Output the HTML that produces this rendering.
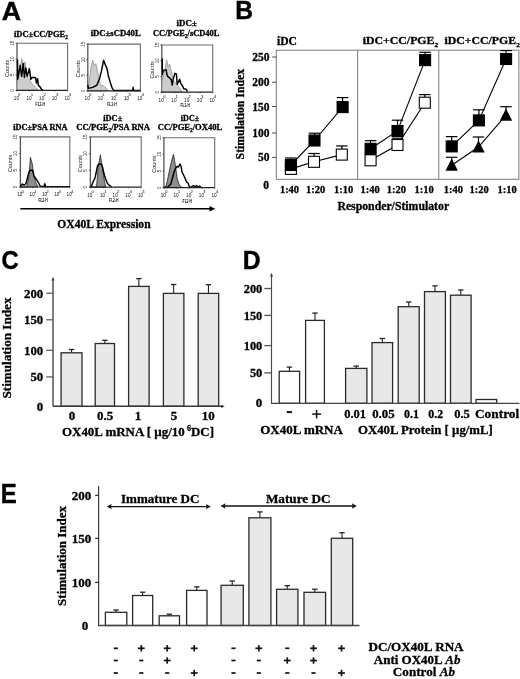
<!DOCTYPE html>
<html><head><meta charset="utf-8"><title>Figure</title>
<style>html,body{margin:0;padding:0;background:#fff;} svg{display:block;will-change:transform;}</style>
</head><body>
<svg width="520" height="679" viewBox="0 0 520 679">
<rect width="520" height="679" fill="#fff"/>
<text transform="translate(1.73,19.85) scale(1.013,1)" font-size="26.45" font-weight="bold" font-family='"Liberation Sans", sans-serif' stroke="#000" stroke-width="0.45">A</text>
<text transform="translate(235.26,19.1) scale(0.968,1)" font-size="25.36" font-weight="bold" font-family='"Liberation Sans", sans-serif' stroke="#000" stroke-width="0.45">B</text>
<text transform="translate(1.43,269.11) scale(0.895,1)" font-size="26.45" font-weight="bold" font-family='"Liberation Sans", sans-serif' stroke="#000" stroke-width="0.45">C</text>
<text transform="translate(242.74,268.6) scale(0.939,1)" font-size="26.45" font-weight="bold" font-family='"Liberation Sans", sans-serif' stroke="#000" stroke-width="0.45">D</text>
<text transform="translate(0.79,503.0) scale(0.884,1)" font-size="27.18" font-weight="bold" font-family='"Liberation Sans", sans-serif' stroke="#000" stroke-width="0.45">E</text>
<text transform="translate(14.00,37.00) scale(0.9875,1.0000)" font-family='"Liberation Serif", serif' font-weight="bold" fill="#000" stroke="#000" stroke-width="0.3"><tspan x="0.00" y="0.00" font-size="8.60">iDC±CC/PGE</tspan><tspan x="52.02" y="1.89" font-size="5.33">2</tspan></text>
<text transform="translate(90.70,36.20) scale(1.0073,1.0000)" font-family='"Liberation Serif", serif' font-weight="bold" fill="#000" stroke="#000" stroke-width="0.3"><tspan x="0.00" y="0.00" font-size="8.60">iDC±sCD40L</tspan></text>
<text transform="translate(176.60,25.80) scale(1.0342,1.0000)" font-family='"Liberation Serif", serif' font-weight="bold" fill="#000" stroke="#000" stroke-width="0.3"><tspan x="0.00" y="0.00" font-size="8.60">iDC±</tspan></text>
<text transform="translate(153.00,36.00) scale(0.9830,1.0000)" font-family='"Liberation Serif", serif' font-weight="bold" fill="#000" stroke="#000" stroke-width="0.3"><tspan x="0.00" y="0.00" font-size="8.60">CC/PGE</tspan><tspan x="32.49" y="1.89" font-size="5.33">2</tspan><tspan x="35.15" y="0.00" font-size="8.60">/sCD40L</tspan></text>
<text transform="translate(13.20,130.40) scale(0.9682,1.0000)" font-family='"Liberation Serif", serif' font-weight="bold" fill="#000" stroke="#000" stroke-width="0.3"><tspan x="0.00" y="0.00" font-size="8.60">iDC±PSA RNA</tspan></text>
<text transform="translate(103.20,121.10) scale(0.9779,1.0000)" font-family='"Liberation Serif", serif' font-weight="bold" fill="#000" stroke="#000" stroke-width="0.3"><tspan x="0.00" y="0.00" font-size="8.60">iDC±</tspan></text>
<text transform="translate(76.20,130.30) scale(0.9960,1.0000)" font-family='"Liberation Serif", serif' font-weight="bold" fill="#000" stroke="#000" stroke-width="0.3"><tspan x="0.00" y="0.00" font-size="8.60">CC/PGE</tspan><tspan x="32.49" y="1.89" font-size="5.33">2</tspan><tspan x="35.15" y="0.00" font-size="8.60">/PSA RNA</tspan></text>
<text transform="translate(180.80,121.10) scale(0.9421,1.0000)" font-family='"Liberation Serif", serif' font-weight="bold" fill="#000" stroke="#000" stroke-width="0.3"><tspan x="0.00" y="0.00" font-size="8.60">iDC±</tspan></text>
<text transform="translate(157.70,130.30) scale(0.9972,1.0000)" font-family='"Liberation Serif", serif' font-weight="bold" fill="#000" stroke="#000" stroke-width="0.3"><tspan x="0.00" y="0.00" font-size="8.60">CC/PGE</tspan><tspan x="32.49" y="1.89" font-size="5.33">2</tspan><tspan x="35.15" y="0.00" font-size="8.60">/OX40L</tspan></text>
<polyline points="17.0,43.3 67.6,43.3 67.6,90.4" fill="none" stroke="#6a6a6a" stroke-width="1.1"/>
<line x1="17.0" y1="42.8" x2="17.0" y2="90.9" stroke="#555" stroke-width="1.3"/>
<polygon points="17.0,90.4 17.5,79.4 19.0,76.4 20.5,66.4 21.9,58.5 23.0,68.4 24.0,64.4 25.0,61.8 26.0,68.4 27.0,74.4 28.0,77.4 29.5,79.2 31.0,82.4 32.5,84.4 34.5,86.4 36.0,87.9 37.0,88.9 38.0,90.4 38.0,90.4" fill="#cdcdcd" stroke="#888" stroke-width="0.7"/>
<polyline points="17.5,59.6 17.7,79.2 19.1,71.4 20.2,65.2 21.6,76.4 23.3,63.5 24.4,77.5 25.8,68.0 27.2,76.4 29.4,68.6 30.8,79.2 32.2,77.5 34.5,77.5 35.6,78.0 36.4,83.1 37.6,78.6 38.4,85.4 40.1,87.0 41.5,89.3 43.0,90.0" fill="none" stroke="#000" stroke-width="1.45" stroke-linejoin="round"/>
<line x1="16.4" y1="90.4" x2="67.6" y2="90.4" stroke="#222" stroke-width="1.2"/>
<line x1="15.5" y1="90.4" x2="17.0" y2="90.4" stroke="#333" stroke-width="0.7"/>
<text transform="translate(13.7,90.4) rotate(-90)" font-size="4.6" font-family='"Liberation Sans", sans-serif' text-anchor="middle" fill="#222">0</text>
<line x1="15.5" y1="74.7" x2="17.0" y2="74.7" stroke="#333" stroke-width="0.7"/>
<text transform="translate(13.7,74.7) rotate(-90)" font-size="4.6" font-family='"Liberation Sans", sans-serif' text-anchor="middle" fill="#222">5</text>
<line x1="15.5" y1="59.0" x2="17.0" y2="59.0" stroke="#333" stroke-width="0.7"/>
<text transform="translate(13.7,59.0) rotate(-90)" font-size="4.6" font-family='"Liberation Sans", sans-serif' text-anchor="middle" fill="#222">10</text>
<line x1="15.5" y1="43.3" x2="17.0" y2="43.3" stroke="#333" stroke-width="0.7"/>
<text transform="translate(13.7,43.3) rotate(-90)" font-size="4.6" font-family='"Liberation Sans", sans-serif' text-anchor="middle" fill="#222">15</text>
<text transform="translate(8.7,68.3) rotate(-90)" font-size="4.7" font-family='"Liberation Sans", sans-serif' text-anchor="middle" fill="#222" textLength="17.2" lengthAdjust="spacingAndGlyphs">Counts</text>
<line x1="17.0" y1="90.4" x2="17.0" y2="91.7" stroke="#333" stroke-width="0.6"/>
<text transform="translate(13.8,99.7) scale(0.8,1)" font-size="5.8" font-family='"Liberation Sans", sans-serif' fill="#111">10</text>
<text x="18.1" y="96.0" font-size="4.4" font-family='"Liberation Sans", sans-serif' fill="#111">0</text>
<line x1="29.65" y1="90.4" x2="29.65" y2="91.7" stroke="#333" stroke-width="0.6"/>
<text transform="translate(26.4,99.7) scale(0.8,1)" font-size="5.8" font-family='"Liberation Sans", sans-serif' fill="#111">10</text>
<text x="30.8" y="96.0" font-size="4.4" font-family='"Liberation Sans", sans-serif' fill="#111">1</text>
<line x1="42.3" y1="90.4" x2="42.3" y2="91.7" stroke="#333" stroke-width="0.6"/>
<text transform="translate(39.1,99.7) scale(0.8,1)" font-size="5.8" font-family='"Liberation Sans", sans-serif' fill="#111">10</text>
<text x="43.4" y="96.0" font-size="4.4" font-family='"Liberation Sans", sans-serif' fill="#111">2</text>
<line x1="54.949999999999996" y1="90.4" x2="54.949999999999996" y2="91.7" stroke="#333" stroke-width="0.6"/>
<text transform="translate(51.7,99.7) scale(0.8,1)" font-size="5.8" font-family='"Liberation Sans", sans-serif' fill="#111">10</text>
<text x="56.0" y="96.0" font-size="4.4" font-family='"Liberation Sans", sans-serif' fill="#111">3</text>
<line x1="67.6" y1="90.4" x2="67.6" y2="91.7" stroke="#333" stroke-width="0.6"/>
<text transform="translate(64.4,99.7) scale(0.8,1)" font-size="5.8" font-family='"Liberation Sans", sans-serif' fill="#111">10</text>
<text x="68.7" y="96.0" font-size="4.4" font-family='"Liberation Sans", sans-serif' fill="#111">4</text>
<text x="40.3" y="105.6" font-size="4.6" font-family='"Liberation Sans", sans-serif' text-anchor="middle" fill="#000" stroke="#000" stroke-width="0.12" textLength="9.4" lengthAdjust="spacingAndGlyphs">FL1-H</text>
<polyline points="87.8,44.1 140.4,44.1 140.4,90.8" fill="none" stroke="#6a6a6a" stroke-width="1.1"/>
<line x1="87.8" y1="43.6" x2="87.8" y2="91.3" stroke="#555" stroke-width="1.3"/>
<polygon points="87.8,90.8 88.3,87.8 89.1,82.4 91.1,66.2 92.8,60.2 94.1,65.8 95.9,63.5 97.2,70.3 98.5,75.0 99.6,81.0 100.8,85.8 102.8,85.3 104.3,86.8 105.8,87.8 107.3,89.8 108.3,90.8 108.3,90.8" fill="#cdcdcd" stroke="#888" stroke-width="0.7"/>
<polyline points="87.8,84.8 88.3,88.4 92.8,87.4 96.9,85.1 99.6,78.4 101.6,70.3 103.6,60.2 105.6,65.6 107.0,68.3 108.3,75.7 110.3,82.4 112.3,88.4 113.7,90.4 132.8,90.4 133.1,87.3 133.6,90.4 140.4,90.4" fill="none" stroke="#000" stroke-width="1.45" stroke-linejoin="round"/>
<line x1="87.2" y1="90.8" x2="140.4" y2="90.8" stroke="#222" stroke-width="1.2"/>
<line x1="86.3" y1="90.8" x2="87.8" y2="90.8" stroke="#333" stroke-width="0.7"/>
<text transform="translate(84.5,90.8) rotate(-90)" font-size="4.6" font-family='"Liberation Sans", sans-serif' text-anchor="middle" fill="#222">0</text>
<line x1="86.3" y1="75.23333333333333" x2="87.8" y2="75.23333333333333" stroke="#333" stroke-width="0.7"/>
<text transform="translate(84.5,75.2) rotate(-90)" font-size="4.6" font-family='"Liberation Sans", sans-serif' text-anchor="middle" fill="#222">5</text>
<line x1="86.3" y1="59.66666666666667" x2="87.8" y2="59.66666666666667" stroke="#333" stroke-width="0.7"/>
<text transform="translate(84.5,59.7) rotate(-90)" font-size="4.6" font-family='"Liberation Sans", sans-serif' text-anchor="middle" fill="#222">10</text>
<line x1="86.3" y1="44.1" x2="87.8" y2="44.1" stroke="#333" stroke-width="0.7"/>
<text transform="translate(84.5,44.1) rotate(-90)" font-size="4.6" font-family='"Liberation Sans", sans-serif' text-anchor="middle" fill="#222">15</text>
<text transform="translate(79.5,68.9) rotate(-90)" font-size="4.7" font-family='"Liberation Sans", sans-serif' text-anchor="middle" fill="#222" textLength="17.2" lengthAdjust="spacingAndGlyphs">Counts</text>
<line x1="87.8" y1="90.8" x2="87.8" y2="92.1" stroke="#333" stroke-width="0.6"/>
<text transform="translate(84.6,100.1) scale(0.8,1)" font-size="5.8" font-family='"Liberation Sans", sans-serif' fill="#111">10</text>
<text x="88.9" y="96.4" font-size="4.4" font-family='"Liberation Sans", sans-serif' fill="#111">0</text>
<line x1="100.95" y1="90.8" x2="100.95" y2="92.1" stroke="#333" stroke-width="0.6"/>
<text transform="translate(97.8,100.1) scale(0.8,1)" font-size="5.8" font-family='"Liberation Sans", sans-serif' fill="#111">10</text>
<text x="102.0" y="96.4" font-size="4.4" font-family='"Liberation Sans", sans-serif' fill="#111">1</text>
<line x1="114.1" y1="90.8" x2="114.1" y2="92.1" stroke="#333" stroke-width="0.6"/>
<text transform="translate(110.9,100.1) scale(0.8,1)" font-size="5.8" font-family='"Liberation Sans", sans-serif' fill="#111">10</text>
<text x="115.2" y="96.4" font-size="4.4" font-family='"Liberation Sans", sans-serif' fill="#111">2</text>
<line x1="127.25" y1="90.8" x2="127.25" y2="92.1" stroke="#333" stroke-width="0.6"/>
<text transform="translate(124.0,100.1) scale(0.8,1)" font-size="5.8" font-family='"Liberation Sans", sans-serif' fill="#111">10</text>
<text x="128.3" y="96.4" font-size="4.4" font-family='"Liberation Sans", sans-serif' fill="#111">3</text>
<line x1="140.4" y1="90.8" x2="140.4" y2="92.1" stroke="#333" stroke-width="0.6"/>
<text transform="translate(137.2,100.1) scale(0.8,1)" font-size="5.8" font-family='"Liberation Sans", sans-serif' fill="#111">10</text>
<text x="141.5" y="96.4" font-size="4.4" font-family='"Liberation Sans", sans-serif' fill="#111">4</text>
<text x="112.0" y="106.0" font-size="4.6" font-family='"Liberation Sans", sans-serif' text-anchor="middle" fill="#000" stroke="#000" stroke-width="0.12" textLength="9.4" lengthAdjust="spacingAndGlyphs">FL1-H</text>
<polyline points="161.8,45.0 212.7,45.0 212.7,92.2" fill="none" stroke="#6a6a6a" stroke-width="1.1"/>
<line x1="161.8" y1="44.5" x2="161.8" y2="92.7" stroke="#555" stroke-width="1.3"/>
<polygon points="161.8,92.2 162.1,80.2 163.3,76.2 164.8,70.2 166.7,59.8 168.0,67.2 169.6,63.9 171.0,70.2 172.0,73.3 172.8,80.2 174.8,82.2 176.8,84.2 178.3,86.2 179.8,88.2 181.3,90.2 182.3,92.2 182.3,92.2" fill="#cdcdcd" stroke="#888" stroke-width="0.7"/>
<polyline points="162.2,58.2 162.3,74.5 163.4,70.4 166.1,69.8 167.2,75.7 168.4,76.9 169.9,78.1 171.3,79.8 172.2,85.1 173.4,78.6 174.9,73.3 176.4,73.9 177.2,84.5 179.6,79.2 180.7,83.4 182.5,85.7 183.7,88.7 186.1,89.3 187.5,91.6" fill="none" stroke="#000" stroke-width="1.45" stroke-linejoin="round"/>
<line x1="161.20000000000002" y1="92.2" x2="212.7" y2="92.2" stroke="#222" stroke-width="1.2"/>
<line x1="160.3" y1="92.2" x2="161.8" y2="92.2" stroke="#333" stroke-width="0.7"/>
<text transform="translate(158.5,92.2) rotate(-90)" font-size="4.6" font-family='"Liberation Sans", sans-serif' text-anchor="middle" fill="#222">0</text>
<line x1="160.3" y1="76.46666666666667" x2="161.8" y2="76.46666666666667" stroke="#333" stroke-width="0.7"/>
<text transform="translate(158.5,76.5) rotate(-90)" font-size="4.6" font-family='"Liberation Sans", sans-serif' text-anchor="middle" fill="#222">5</text>
<line x1="160.3" y1="60.733333333333334" x2="161.8" y2="60.733333333333334" stroke="#333" stroke-width="0.7"/>
<text transform="translate(158.5,60.7) rotate(-90)" font-size="4.6" font-family='"Liberation Sans", sans-serif' text-anchor="middle" fill="#222">10</text>
<line x1="160.3" y1="45.0" x2="161.8" y2="45.0" stroke="#333" stroke-width="0.7"/>
<text transform="translate(158.5,45.0) rotate(-90)" font-size="4.6" font-family='"Liberation Sans", sans-serif' text-anchor="middle" fill="#222">15</text>
<text transform="translate(153.5,70.0) rotate(-90)" font-size="4.7" font-family='"Liberation Sans", sans-serif' text-anchor="middle" fill="#222" textLength="17.2" lengthAdjust="spacingAndGlyphs">Counts</text>
<line x1="161.8" y1="92.2" x2="161.8" y2="93.5" stroke="#333" stroke-width="0.6"/>
<text transform="translate(158.6,101.5) scale(0.8,1)" font-size="5.8" font-family='"Liberation Sans", sans-serif' fill="#111">10</text>
<text x="162.9" y="97.8" font-size="4.4" font-family='"Liberation Sans", sans-serif' fill="#111">0</text>
<line x1="174.525" y1="92.2" x2="174.525" y2="93.5" stroke="#333" stroke-width="0.6"/>
<text transform="translate(171.3,101.5) scale(0.8,1)" font-size="5.8" font-family='"Liberation Sans", sans-serif' fill="#111">10</text>
<text x="175.6" y="97.8" font-size="4.4" font-family='"Liberation Sans", sans-serif' fill="#111">1</text>
<line x1="187.25" y1="92.2" x2="187.25" y2="93.5" stroke="#333" stroke-width="0.6"/>
<text transform="translate(184.1,101.5) scale(0.8,1)" font-size="5.8" font-family='"Liberation Sans", sans-serif' fill="#111">10</text>
<text x="188.3" y="97.8" font-size="4.4" font-family='"Liberation Sans", sans-serif' fill="#111">2</text>
<line x1="199.975" y1="92.2" x2="199.975" y2="93.5" stroke="#333" stroke-width="0.6"/>
<text transform="translate(196.8,101.5) scale(0.8,1)" font-size="5.8" font-family='"Liberation Sans", sans-serif' fill="#111">10</text>
<text x="201.1" y="97.8" font-size="4.4" font-family='"Liberation Sans", sans-serif' fill="#111">3</text>
<line x1="212.7" y1="92.2" x2="212.7" y2="93.5" stroke="#333" stroke-width="0.6"/>
<text transform="translate(209.5,101.5) scale(0.8,1)" font-size="5.8" font-family='"Liberation Sans", sans-serif' fill="#111">10</text>
<text x="213.8" y="97.8" font-size="4.4" font-family='"Liberation Sans", sans-serif' fill="#111">4</text>
<text x="185.2" y="107.4" font-size="4.6" font-family='"Liberation Sans", sans-serif' text-anchor="middle" fill="#000" stroke="#000" stroke-width="0.12" textLength="9.4" lengthAdjust="spacingAndGlyphs">FL1-H</text>
<polyline points="20.4,136.9 69.8,136.9 69.8,187.0" fill="none" stroke="#6a6a6a" stroke-width="1.1"/>
<line x1="20.4" y1="136.4" x2="20.4" y2="187.5" stroke="#555" stroke-width="1.3"/>
<polygon points="20.4,187.0 26.5,187.0 27.9,182.0 28.9,177.0 29.5,170.0 30.4,157.3 31.5,161.3 32.5,165.0 33.0,170.0 34.0,177.0 36.0,183.0 38.0,187.0 38.0,187.0" fill="#8e8e8e" stroke="#222" stroke-width="0.8"/>
<polyline points="20.4,186.3 22.5,184.1 24.0,185.3 25.9,183.8 27.5,177.8 28.5,173.8 29.5,170.8 30.5,170.3 32.5,170.3 33.0,172.0 34.0,175.8 35.5,178.3 37.0,180.3 38.5,182.8 40.0,185.8 41.5,186.5 44.0,186.5 44.8,183.8 45.6,186.5 69.8,186.6" fill="none" stroke="#000" stroke-width="1.45" stroke-linejoin="round"/>
<line x1="19.799999999999997" y1="187.0" x2="69.8" y2="187.0" stroke="#222" stroke-width="1.2"/>
<line x1="18.9" y1="187.0" x2="20.4" y2="187.0" stroke="#333" stroke-width="0.7"/>
<text transform="translate(17.1,187.0) rotate(-90)" font-size="4.6" font-family='"Liberation Sans", sans-serif' text-anchor="middle" fill="#222">0</text>
<line x1="18.9" y1="170.3" x2="20.4" y2="170.3" stroke="#333" stroke-width="0.7"/>
<text transform="translate(17.1,170.3) rotate(-90)" font-size="4.6" font-family='"Liberation Sans", sans-serif' text-anchor="middle" fill="#222">5</text>
<line x1="18.9" y1="153.60000000000002" x2="20.4" y2="153.60000000000002" stroke="#333" stroke-width="0.7"/>
<text transform="translate(17.1,153.6) rotate(-90)" font-size="4.6" font-family='"Liberation Sans", sans-serif' text-anchor="middle" fill="#222">10</text>
<line x1="18.9" y1="136.9" x2="20.4" y2="136.9" stroke="#333" stroke-width="0.7"/>
<text transform="translate(17.1,136.9) rotate(-90)" font-size="4.6" font-family='"Liberation Sans", sans-serif' text-anchor="middle" fill="#222">15</text>
<text transform="translate(12.1,163.5) rotate(-90)" font-size="4.7" font-family='"Liberation Sans", sans-serif' text-anchor="middle" fill="#222" textLength="17.2" lengthAdjust="spacingAndGlyphs">Counts</text>
<line x1="20.4" y1="187.0" x2="20.4" y2="188.3" stroke="#333" stroke-width="0.6"/>
<text transform="translate(17.2,196.3) scale(0.8,1)" font-size="5.8" font-family='"Liberation Sans", sans-serif' fill="#111">10</text>
<text x="21.5" y="192.6" font-size="4.4" font-family='"Liberation Sans", sans-serif' fill="#111">0</text>
<line x1="32.75" y1="187.0" x2="32.75" y2="188.3" stroke="#333" stroke-width="0.6"/>
<text transform="translate(29.6,196.3) scale(0.8,1)" font-size="5.8" font-family='"Liberation Sans", sans-serif' fill="#111">10</text>
<text x="33.9" y="192.6" font-size="4.4" font-family='"Liberation Sans", sans-serif' fill="#111">1</text>
<line x1="45.099999999999994" y1="187.0" x2="45.099999999999994" y2="188.3" stroke="#333" stroke-width="0.6"/>
<text transform="translate(41.9,196.3) scale(0.8,1)" font-size="5.8" font-family='"Liberation Sans", sans-serif' fill="#111">10</text>
<text x="46.2" y="192.6" font-size="4.4" font-family='"Liberation Sans", sans-serif' fill="#111">2</text>
<line x1="57.449999999999996" y1="187.0" x2="57.449999999999996" y2="188.3" stroke="#333" stroke-width="0.6"/>
<text transform="translate(54.2,196.3) scale(0.8,1)" font-size="5.8" font-family='"Liberation Sans", sans-serif' fill="#111">10</text>
<text x="58.5" y="192.6" font-size="4.4" font-family='"Liberation Sans", sans-serif' fill="#111">3</text>
<line x1="69.8" y1="187.0" x2="69.8" y2="188.3" stroke="#333" stroke-width="0.6"/>
<text transform="translate(66.6,196.3) scale(0.8,1)" font-size="5.8" font-family='"Liberation Sans", sans-serif' fill="#111">10</text>
<text x="70.9" y="192.6" font-size="4.4" font-family='"Liberation Sans", sans-serif' fill="#111">4</text>
<text x="43.1" y="202.2" font-size="4.6" font-family='"Liberation Sans", sans-serif' text-anchor="middle" fill="#000" stroke="#000" stroke-width="0.12" textLength="9.4" lengthAdjust="spacingAndGlyphs">FL2-H</text>
<polyline points="90.4,136.9 141.2,136.9 141.2,187.2" fill="none" stroke="#6a6a6a" stroke-width="1.1"/>
<line x1="90.4" y1="136.4" x2="90.4" y2="187.7" stroke="#555" stroke-width="1.3"/>
<polygon points="90.4,187.2 96.5,187.2 97.5,175.2 98.5,164.2 99.5,160.2 100.3,154.9 101.5,162.2 102.5,168.2 103.5,175.2 104.5,181.2 105.7,187.2 105.7,187.2" fill="#8e8e8e" stroke="#222" stroke-width="0.8"/>
<polyline points="90.4,186.5 91.5,186.2 93.0,182.0 95.0,178.0 96.5,171.0 97.5,166.0 98.5,164.4 100.0,164.0 101.5,164.5 102.5,167.0 103.5,171.5 104.5,175.5 105.5,178.5 106.5,181.0 107.5,183.5 109.0,185.0 110.5,186.0 111.5,186.9" fill="none" stroke="#000" stroke-width="1.45" stroke-linejoin="round"/>
<line x1="89.80000000000001" y1="187.2" x2="141.2" y2="187.2" stroke="#222" stroke-width="1.2"/>
<line x1="88.9" y1="187.2" x2="90.4" y2="187.2" stroke="#333" stroke-width="0.7"/>
<text transform="translate(87.1,187.2) rotate(-90)" font-size="4.6" font-family='"Liberation Sans", sans-serif' text-anchor="middle" fill="#222">0</text>
<line x1="88.9" y1="170.43333333333334" x2="90.4" y2="170.43333333333334" stroke="#333" stroke-width="0.7"/>
<text transform="translate(87.1,170.4) rotate(-90)" font-size="4.6" font-family='"Liberation Sans", sans-serif' text-anchor="middle" fill="#222">5</text>
<line x1="88.9" y1="153.66666666666666" x2="90.4" y2="153.66666666666666" stroke="#333" stroke-width="0.7"/>
<text transform="translate(87.1,153.7) rotate(-90)" font-size="4.6" font-family='"Liberation Sans", sans-serif' text-anchor="middle" fill="#222">10</text>
<line x1="88.9" y1="136.9" x2="90.4" y2="136.9" stroke="#333" stroke-width="0.7"/>
<text transform="translate(87.1,136.9) rotate(-90)" font-size="4.6" font-family='"Liberation Sans", sans-serif' text-anchor="middle" fill="#222">15</text>
<text transform="translate(82.1,163.6) rotate(-90)" font-size="4.7" font-family='"Liberation Sans", sans-serif' text-anchor="middle" fill="#222" textLength="17.2" lengthAdjust="spacingAndGlyphs">Counts</text>
<line x1="90.4" y1="187.2" x2="90.4" y2="188.5" stroke="#333" stroke-width="0.6"/>
<text transform="translate(87.2,196.5) scale(0.8,1)" font-size="5.8" font-family='"Liberation Sans", sans-serif' fill="#111">10</text>
<text x="91.5" y="192.8" font-size="4.4" font-family='"Liberation Sans", sans-serif' fill="#111">0</text>
<line x1="103.1" y1="187.2" x2="103.1" y2="188.5" stroke="#333" stroke-width="0.6"/>
<text transform="translate(99.9,196.5) scale(0.8,1)" font-size="5.8" font-family='"Liberation Sans", sans-serif' fill="#111">10</text>
<text x="104.2" y="192.8" font-size="4.4" font-family='"Liberation Sans", sans-serif' fill="#111">1</text>
<line x1="115.8" y1="187.2" x2="115.8" y2="188.5" stroke="#333" stroke-width="0.6"/>
<text transform="translate(112.6,196.5) scale(0.8,1)" font-size="5.8" font-family='"Liberation Sans", sans-serif' fill="#111">10</text>
<text x="116.9" y="192.8" font-size="4.4" font-family='"Liberation Sans", sans-serif' fill="#111">2</text>
<line x1="128.5" y1="187.2" x2="128.5" y2="188.5" stroke="#333" stroke-width="0.6"/>
<text transform="translate(125.3,196.5) scale(0.8,1)" font-size="5.8" font-family='"Liberation Sans", sans-serif' fill="#111">10</text>
<text x="129.6" y="192.8" font-size="4.4" font-family='"Liberation Sans", sans-serif' fill="#111">3</text>
<line x1="141.2" y1="187.2" x2="141.2" y2="188.5" stroke="#333" stroke-width="0.6"/>
<text transform="translate(138.0,196.5) scale(0.8,1)" font-size="5.8" font-family='"Liberation Sans", sans-serif' fill="#111">10</text>
<text x="142.3" y="192.8" font-size="4.4" font-family='"Liberation Sans", sans-serif' fill="#111">4</text>
<text x="113.8" y="202.4" font-size="4.6" font-family='"Liberation Sans", sans-serif' text-anchor="middle" fill="#000" stroke="#000" stroke-width="0.12" textLength="9.4" lengthAdjust="spacingAndGlyphs">FL2-H</text>
<polyline points="163.9,137.7 214.7,137.7 214.7,187.6" fill="none" stroke="#6a6a6a" stroke-width="1.1"/>
<line x1="163.9" y1="137.2" x2="163.9" y2="188.1" stroke="#555" stroke-width="1.3"/>
<polygon points="163.9,187.6 165.6,187.6 167.5,180.0 169.5,170.0 171.2,162.6 173.4,154.3 174.5,160.0 176.0,170.0 177.0,178.0 178.6,183.0 180.0,186.0 182.5,187.6 182.5,187.6" fill="#8e8e8e" stroke="#222" stroke-width="0.8"/>
<polyline points="163.9,187.3 168.0,187.0 170.8,184.0 172.5,178.0 174.0,172.0 175.5,168.5 177.0,166.5 178.5,167.0 179.9,164.0 181.0,166.0 182.0,172.0 183.5,175.0 185.0,178.0 186.5,182.0 188.0,183.0 189.5,187.0 190.5,187.3 192.0,186.5 193.5,185.5 195.0,187.0 196.5,185.5 198.0,187.0 199.5,186.0 201.0,187.3" fill="none" stroke="#000" stroke-width="1.45" stroke-linejoin="round"/>
<line x1="163.3" y1="187.6" x2="214.7" y2="187.6" stroke="#222" stroke-width="1.2"/>
<line x1="162.4" y1="187.6" x2="163.9" y2="187.6" stroke="#333" stroke-width="0.7"/>
<text transform="translate(160.6,187.6) rotate(-90)" font-size="4.6" font-family='"Liberation Sans", sans-serif' text-anchor="middle" fill="#222">0</text>
<line x1="162.4" y1="170.96666666666667" x2="163.9" y2="170.96666666666667" stroke="#333" stroke-width="0.7"/>
<text transform="translate(160.6,171.0) rotate(-90)" font-size="4.6" font-family='"Liberation Sans", sans-serif' text-anchor="middle" fill="#222">5</text>
<line x1="162.4" y1="154.33333333333331" x2="163.9" y2="154.33333333333331" stroke="#333" stroke-width="0.7"/>
<text transform="translate(160.6,154.3) rotate(-90)" font-size="4.6" font-family='"Liberation Sans", sans-serif' text-anchor="middle" fill="#222">10</text>
<line x1="162.4" y1="137.7" x2="163.9" y2="137.7" stroke="#333" stroke-width="0.7"/>
<text transform="translate(160.6,137.7) rotate(-90)" font-size="4.6" font-family='"Liberation Sans", sans-serif' text-anchor="middle" fill="#222">15</text>
<text transform="translate(155.6,164.1) rotate(-90)" font-size="4.7" font-family='"Liberation Sans", sans-serif' text-anchor="middle" fill="#222" textLength="17.2" lengthAdjust="spacingAndGlyphs">Counts</text>
<line x1="163.9" y1="187.6" x2="163.9" y2="188.9" stroke="#333" stroke-width="0.6"/>
<text transform="translate(160.7,196.9) scale(0.8,1)" font-size="5.8" font-family='"Liberation Sans", sans-serif' fill="#111">10</text>
<text x="165.0" y="193.2" font-size="4.4" font-family='"Liberation Sans", sans-serif' fill="#111">0</text>
<line x1="176.6" y1="187.6" x2="176.6" y2="188.9" stroke="#333" stroke-width="0.6"/>
<text transform="translate(173.4,196.9) scale(0.8,1)" font-size="5.8" font-family='"Liberation Sans", sans-serif' fill="#111">10</text>
<text x="177.7" y="193.2" font-size="4.4" font-family='"Liberation Sans", sans-serif' fill="#111">1</text>
<line x1="189.3" y1="187.6" x2="189.3" y2="188.9" stroke="#333" stroke-width="0.6"/>
<text transform="translate(186.1,196.9) scale(0.8,1)" font-size="5.8" font-family='"Liberation Sans", sans-serif' fill="#111">10</text>
<text x="190.4" y="193.2" font-size="4.4" font-family='"Liberation Sans", sans-serif' fill="#111">2</text>
<line x1="202.0" y1="187.6" x2="202.0" y2="188.9" stroke="#333" stroke-width="0.6"/>
<text transform="translate(198.8,196.9) scale(0.8,1)" font-size="5.8" font-family='"Liberation Sans", sans-serif' fill="#111">10</text>
<text x="203.1" y="193.2" font-size="4.4" font-family='"Liberation Sans", sans-serif' fill="#111">3</text>
<line x1="214.7" y1="187.6" x2="214.7" y2="188.9" stroke="#333" stroke-width="0.6"/>
<text transform="translate(211.5,196.9) scale(0.8,1)" font-size="5.8" font-family='"Liberation Sans", sans-serif' fill="#111">10</text>
<text x="215.8" y="193.2" font-size="4.4" font-family='"Liberation Sans", sans-serif' fill="#111">4</text>
<text x="187.3" y="202.8" font-size="4.6" font-family='"Liberation Sans", sans-serif' text-anchor="middle" fill="#000" stroke="#000" stroke-width="0.12" textLength="9.4" lengthAdjust="spacingAndGlyphs">FL2-H</text>
<line x1="20.3" y1="208.7" x2="212.5" y2="208.7" stroke="#000" stroke-width="1.5"/>
<polygon points="209.5,205.9 215.2,208.7 209.5,211.5" fill="#000"/>
<text transform="translate(57.30,227.70) scale(0.9896,1.0000)" font-family='"Liberation Serif", serif' font-weight="bold" fill="#000" stroke="#000" stroke-width="0.3"><tspan x="0.00" y="0.00" font-size="11.70">OX40L Expression</tspan></text>
<rect x="276.3" y="50.2" width="242.6" height="129.1" fill="none" stroke="#7a7a7a" stroke-width="1"/>
<line x1="357.6" y1="50.2" x2="357.6" y2="179.3" stroke="#7a7a7a" stroke-width="1"/>
<line x1="438.8" y1="50.2" x2="438.8" y2="179.3" stroke="#7a7a7a" stroke-width="1"/>
<text transform="translate(277.00,44.50) scale(1.0099,1.0000)" font-family='"Liberation Serif", serif' font-weight="bold" fill="#000" stroke="#000" stroke-width="0.3"><tspan x="0.00" y="0.00" font-size="11.50">iDC</tspan></text>
<text transform="translate(362.80,44.40) scale(1.0445,1.0000)" font-family='"Liberation Serif", serif' font-weight="bold" fill="#000" stroke="#000" stroke-width="0.3"><tspan x="0.00" y="0.00" font-size="11.30">iDC+CC/PGE</tspan><tspan x="68.59" y="2.49" font-size="7.01">2</tspan></text>
<text transform="translate(444.50,44.40) scale(1.0445,1.0000)" font-family='"Liberation Serif", serif' font-weight="bold" fill="#000" stroke="#000" stroke-width="0.3"><tspan x="0.00" y="0.00" font-size="11.30">iDC+CC/PGE</tspan><tspan x="68.59" y="2.49" font-size="7.01">2</tspan></text>
<line x1="272.2" y1="57.0" x2="276.3" y2="57.0" stroke="#444" stroke-width="1"/>
<text transform="translate(269.60,61.00)" font-family='"Liberation Serif", serif' font-weight="bold" fill="#000" stroke="#000" stroke-width="0.3"><tspan x="-17.25" y="0.00" font-size="11.50">250</tspan></text>
<line x1="272.2" y1="82.2" x2="276.3" y2="82.2" stroke="#444" stroke-width="1"/>
<text transform="translate(269.60,86.20)" font-family='"Liberation Serif", serif' font-weight="bold" fill="#000" stroke="#000" stroke-width="0.3"><tspan x="-17.25" y="0.00" font-size="11.50">200</tspan></text>
<line x1="272.2" y1="106.5" x2="276.3" y2="106.5" stroke="#444" stroke-width="1"/>
<text transform="translate(269.60,110.50)" font-family='"Liberation Serif", serif' font-weight="bold" fill="#000" stroke="#000" stroke-width="0.3"><tspan x="-17.25" y="0.00" font-size="11.50">150</tspan></text>
<line x1="272.2" y1="133.0" x2="276.3" y2="133.0" stroke="#444" stroke-width="1"/>
<text transform="translate(269.60,137.00)" font-family='"Liberation Serif", serif' font-weight="bold" fill="#000" stroke="#000" stroke-width="0.3"><tspan x="-17.25" y="0.00" font-size="11.50">100</tspan></text>
<line x1="272.2" y1="157.4" x2="276.3" y2="157.4" stroke="#444" stroke-width="1"/>
<text transform="translate(269.60,161.40)" font-family='"Liberation Serif", serif' font-weight="bold" fill="#000" stroke="#000" stroke-width="0.3"><tspan x="-11.50" y="0.00" font-size="11.50">50</tspan></text>
<text transform="translate(269.00,188.60)" font-family='"Liberation Serif", serif' font-weight="bold" fill="#000" stroke="#000" stroke-width="0.3"><tspan x="-5.75" y="0.00" font-size="11.50">0</tspan></text>
<text transform="translate(244.10,114.10) rotate(-90) scale(1.0148,1.0000)" font-family='"Liberation Serif", serif' font-weight="bold" fill="#000" stroke="#000" stroke-width="0.3"><tspan x="-44.64" y="0.00" font-size="11.60">Stimulation Index</tspan></text>
<text transform="translate(289.50,193.20) scale(0.9882,1.0000)" font-family='"Liberation Serif", serif' font-weight="bold" fill="#000" stroke="#000" stroke-width="0.3"><tspan x="-9.71" y="0.00" font-size="10.60">1:40</tspan></text>
<text transform="translate(315.60,193.20) scale(0.9882,1.0000)" font-family='"Liberation Serif", serif' font-weight="bold" fill="#000" stroke="#000" stroke-width="0.3"><tspan x="-9.71" y="0.00" font-size="10.60">1:20</tspan></text>
<text transform="translate(343.60,193.20) scale(0.9882,1.0000)" font-family='"Liberation Serif", serif' font-weight="bold" fill="#000" stroke="#000" stroke-width="0.3"><tspan x="-9.71" y="0.00" font-size="10.60">1:10</tspan></text>
<text transform="translate(370.20,193.20) scale(0.9882,1.0000)" font-family='"Liberation Serif", serif' font-weight="bold" fill="#000" stroke="#000" stroke-width="0.3"><tspan x="-9.71" y="0.00" font-size="10.60">1:40</tspan></text>
<text transform="translate(396.40,193.20) scale(0.9882,1.0000)" font-family='"Liberation Serif", serif' font-weight="bold" fill="#000" stroke="#000" stroke-width="0.3"><tspan x="-9.71" y="0.00" font-size="10.60">1:20</tspan></text>
<text transform="translate(424.20,193.20) scale(0.9882,1.0000)" font-family='"Liberation Serif", serif' font-weight="bold" fill="#000" stroke="#000" stroke-width="0.3"><tspan x="-9.71" y="0.00" font-size="10.60">1:10</tspan></text>
<text transform="translate(453.40,193.20) scale(0.9882,1.0000)" font-family='"Liberation Serif", serif' font-weight="bold" fill="#000" stroke="#000" stroke-width="0.3"><tspan x="-9.71" y="0.00" font-size="10.60">1:40</tspan></text>
<text transform="translate(479.20,193.20) scale(0.9882,1.0000)" font-family='"Liberation Serif", serif' font-weight="bold" fill="#000" stroke="#000" stroke-width="0.3"><tspan x="-9.71" y="0.00" font-size="10.60">1:20</tspan></text>
<text transform="translate(507.10,193.20) scale(0.9882,1.0000)" font-family='"Liberation Serif", serif' font-weight="bold" fill="#000" stroke="#000" stroke-width="0.3"><tspan x="-9.71" y="0.00" font-size="10.60">1:10</tspan></text>
<text transform="translate(337.40,209.50) scale(0.9973,1.0300)" font-family='"Liberation Serif", serif' font-weight="bold" fill="#000" stroke="#000" stroke-width="0.3"><tspan x="0.00" y="0.00" font-size="11.80">Responder/Stimulator</tspan></text>
<line x1="290.9" y1="161.0" x2="290.9" y2="168.9" stroke="#000" stroke-width="1.2"/>
<line x1="285.15" y1="161.0" x2="296.65" y2="161.0" stroke="#000" stroke-width="1.2"/>
<line x1="314.0" y1="153.5" x2="314.0" y2="161.8" stroke="#000" stroke-width="1.2"/>
<line x1="308.25" y1="153.5" x2="319.75" y2="153.5" stroke="#000" stroke-width="1.2"/>
<line x1="341.8" y1="145.9" x2="341.8" y2="154.6" stroke="#000" stroke-width="1.2"/>
<line x1="336.05" y1="145.9" x2="347.55" y2="145.9" stroke="#000" stroke-width="1.2"/>
<polyline points="290.9,168.9 314.0,161.8 341.8,154.6" fill="none" stroke="#000" stroke-width="1.1"/>
<rect x="285.4" y="163.4" width="11" height="11" fill="#fff" stroke="#000" stroke-width="1.1"/>
<rect x="308.5" y="156.3" width="11" height="11" fill="#fff" stroke="#000" stroke-width="1.1"/>
<rect x="336.3" y="149.1" width="11" height="11" fill="#fff" stroke="#000" stroke-width="1.1"/>
<line x1="370.6" y1="152" x2="370.6" y2="160.3" stroke="#000" stroke-width="1.2"/>
<line x1="364.85" y1="152" x2="376.35" y2="152" stroke="#000" stroke-width="1.2"/>
<line x1="397.5" y1="138.2" x2="397.5" y2="145.0" stroke="#000" stroke-width="1.2"/>
<line x1="391.75" y1="138.2" x2="403.25" y2="138.2" stroke="#000" stroke-width="1.2"/>
<line x1="424.8" y1="94.6" x2="424.8" y2="102.7" stroke="#000" stroke-width="1.2"/>
<line x1="419.05" y1="94.6" x2="430.55" y2="94.6" stroke="#000" stroke-width="1.2"/>
<polyline points="370.6,160.3 397.5,145.0 424.8,102.7" fill="none" stroke="#000" stroke-width="1.1"/>
<rect x="365.1" y="154.8" width="11" height="11" fill="#fff" stroke="#000" stroke-width="1.1"/>
<rect x="392.0" y="139.5" width="11" height="11" fill="#fff" stroke="#000" stroke-width="1.1"/>
<rect x="419.3" y="97.2" width="11" height="11" fill="#fff" stroke="#000" stroke-width="1.1"/>
<line x1="290.9" y1="158.0" x2="290.9" y2="165.0" stroke="#000" stroke-width="1.2"/>
<line x1="285.15" y1="158.0" x2="296.65" y2="158.0" stroke="#000" stroke-width="1.2"/>
<line x1="314.5" y1="133.2" x2="314.5" y2="140.5" stroke="#000" stroke-width="1.2"/>
<line x1="308.75" y1="133.2" x2="320.25" y2="133.2" stroke="#000" stroke-width="1.2"/>
<line x1="342.6" y1="97.6" x2="342.6" y2="107.1" stroke="#000" stroke-width="1.2"/>
<line x1="336.85" y1="97.6" x2="348.35" y2="97.6" stroke="#000" stroke-width="1.2"/>
<polyline points="290.9,165.0 314.5,140.5 342.6,107.1" fill="none" stroke="#000" stroke-width="1.1"/>
<rect x="285.4" y="159.5" width="11" height="11" fill="#000" stroke="#000" stroke-width="1.1"/>
<rect x="309.0" y="135.0" width="11" height="11" fill="#000" stroke="#000" stroke-width="1.1"/>
<rect x="337.1" y="101.6" width="11" height="11" fill="#000" stroke="#000" stroke-width="1.1"/>
<line x1="370.6" y1="140.7" x2="370.6" y2="148.8" stroke="#000" stroke-width="1.2"/>
<line x1="364.85" y1="140.7" x2="376.35" y2="140.7" stroke="#000" stroke-width="1.2"/>
<line x1="397.5" y1="120.2" x2="397.5" y2="131.0" stroke="#000" stroke-width="1.2"/>
<line x1="391.75" y1="120.2" x2="403.25" y2="120.2" stroke="#000" stroke-width="1.2"/>
<line x1="425.1" y1="52.3" x2="425.1" y2="60.1" stroke="#000" stroke-width="1.2"/>
<line x1="419.35" y1="52.3" x2="430.85" y2="52.3" stroke="#000" stroke-width="1.2"/>
<polyline points="370.6,148.8 397.5,131.0 425.1,60.1" fill="none" stroke="#000" stroke-width="1.1"/>
<rect x="365.1" y="143.3" width="11" height="11" fill="#000" stroke="#000" stroke-width="1.1"/>
<rect x="392.0" y="125.5" width="11" height="11" fill="#000" stroke="#000" stroke-width="1.1"/>
<rect x="419.6" y="54.6" width="11" height="11" fill="#000" stroke="#000" stroke-width="1.1"/>
<line x1="451.7" y1="136.6" x2="451.7" y2="146.4" stroke="#000" stroke-width="1.2"/>
<line x1="445.95" y1="136.6" x2="457.45" y2="136.6" stroke="#000" stroke-width="1.2"/>
<line x1="478.9" y1="109.8" x2="478.9" y2="120.4" stroke="#000" stroke-width="1.2"/>
<line x1="473.15" y1="109.8" x2="484.65" y2="109.8" stroke="#000" stroke-width="1.2"/>
<line x1="506.1" y1="50.6" x2="506.1" y2="59.0" stroke="#000" stroke-width="1.2"/>
<line x1="500.35" y1="50.6" x2="511.85" y2="50.6" stroke="#000" stroke-width="1.2"/>
<polyline points="451.7,146.4 478.9,120.4 506.1,59.0" fill="none" stroke="#000" stroke-width="1.1"/>
<rect x="446.2" y="140.9" width="11" height="11" fill="#000" stroke="#000" stroke-width="1.1"/>
<rect x="473.4" y="114.9" width="11" height="11" fill="#000" stroke="#000" stroke-width="1.1"/>
<rect x="500.6" y="53.5" width="11" height="11" fill="#000" stroke="#000" stroke-width="1.1"/>
<line x1="451.7" y1="157.3" x2="451.7" y2="165.2" stroke="#000" stroke-width="1.2"/>
<line x1="445.95" y1="157.3" x2="457.45" y2="157.3" stroke="#000" stroke-width="1.2"/>
<line x1="478.5" y1="137.0" x2="478.5" y2="147.0" stroke="#000" stroke-width="1.2"/>
<line x1="472.75" y1="137.0" x2="484.25" y2="137.0" stroke="#000" stroke-width="1.2"/>
<line x1="506.0" y1="106.7" x2="506.0" y2="115.2" stroke="#000" stroke-width="1.2"/>
<line x1="500.25" y1="106.7" x2="511.75" y2="106.7" stroke="#000" stroke-width="1.2"/>
<polyline points="451.7,165.2 478.5,147.0 506.0,115.2" fill="none" stroke="#000" stroke-width="1.1"/>
<polygon points="451.7,158.6 457.9,170.8 445.5,170.8" fill="#000"/>
<polygon points="478.5,140.4 484.7,152.6 472.3,152.6" fill="#000"/>
<polygon points="506.0,108.6 512.2,120.8 499.8,120.8" fill="#000"/>
<line x1="53" y1="279" x2="53" y2="406.3" stroke="#555" stroke-width="1.5"/>
<polygon points="51.4,280.5 53,276.8 54.6,280.5" fill="#444"/>
<line x1="46.1" y1="293.2" x2="53" y2="293.2" stroke="#555" stroke-width="1.2"/>
<text transform="translate(43.20,297.70) scale(0.9846,1.0300)" font-family='"Liberation Serif", serif' font-weight="bold" fill="#000" stroke="#000" stroke-width="0.3"><tspan x="-19.50" y="0.00" font-size="13.00">200</tspan></text>
<line x1="46.1" y1="319.8" x2="53" y2="319.8" stroke="#555" stroke-width="1.2"/>
<text transform="translate(43.20,324.30) scale(0.9846,1.0300)" font-family='"Liberation Serif", serif' font-weight="bold" fill="#000" stroke="#000" stroke-width="0.3"><tspan x="-19.50" y="0.00" font-size="13.00">150</tspan></text>
<line x1="46.1" y1="350.3" x2="53" y2="350.3" stroke="#555" stroke-width="1.2"/>
<text transform="translate(43.20,354.80) scale(0.9846,1.0300)" font-family='"Liberation Serif", serif' font-weight="bold" fill="#000" stroke="#000" stroke-width="0.3"><tspan x="-19.50" y="0.00" font-size="13.00">100</tspan></text>
<line x1="46.1" y1="376.9" x2="53" y2="376.9" stroke="#555" stroke-width="1.2"/>
<text transform="translate(43.20,381.40) scale(0.9846,1.0300)" font-family='"Liberation Serif", serif' font-weight="bold" fill="#000" stroke="#000" stroke-width="0.3"><tspan x="-13.00" y="0.00" font-size="13.00">50</tspan></text>
<text transform="translate(43.20,411.00) scale(1.0000,1.0300)" font-family='"Liberation Serif", serif' font-weight="bold" fill="#000" stroke="#000" stroke-width="0.3"><tspan x="-6.50" y="0.00" font-size="13.00">0</tspan></text>
<text transform="translate(11.20,348.00) rotate(-90) scale(1.0094,1.0300)" font-family='"Liberation Serif", serif' font-weight="bold" fill="#000" stroke="#000" stroke-width="0.3"><tspan x="-50.03" y="0.00" font-size="13.00">Stimulation Index</tspan></text>
<line x1="71.55" y1="349.5" x2="71.55" y2="352.8" stroke="#222" stroke-width="1.1"/>
<line x1="68.85" y1="349.5" x2="74.25" y2="349.5" stroke="#222" stroke-width="1.3"/>
<rect x="61.1" y="352.8" width="20.9" height="53.5" fill="#e8e8e8" stroke="#2a2a2a" stroke-width="1.3"/>
<line x1="104.85" y1="340.3" x2="104.85" y2="343.5" stroke="#222" stroke-width="1.1"/>
<line x1="102.14999999999999" y1="340.3" x2="107.55" y2="340.3" stroke="#222" stroke-width="1.3"/>
<rect x="95.2" y="343.5" width="19.3" height="62.8" fill="#e8e8e8" stroke="#2a2a2a" stroke-width="1.3"/>
<line x1="138.85" y1="278.6" x2="138.85" y2="286.4" stroke="#222" stroke-width="1.1"/>
<line x1="136.15" y1="278.6" x2="141.54999999999998" y2="278.6" stroke="#222" stroke-width="1.3"/>
<rect x="128.6" y="286.4" width="20.5" height="119.9" fill="#e8e8e8" stroke="#2a2a2a" stroke-width="1.3"/>
<line x1="173.65" y1="284.5" x2="173.65" y2="293.4" stroke="#222" stroke-width="1.1"/>
<line x1="170.95000000000002" y1="284.5" x2="176.35" y2="284.5" stroke="#222" stroke-width="1.3"/>
<rect x="163.4" y="293.4" width="20.5" height="112.9" fill="#e8e8e8" stroke="#2a2a2a" stroke-width="1.3"/>
<line x1="208.45" y1="284.7" x2="208.45" y2="293.4" stroke="#222" stroke-width="1.1"/>
<line x1="205.75" y1="284.7" x2="211.14999999999998" y2="284.7" stroke="#222" stroke-width="1.3"/>
<rect x="198.2" y="293.4" width="20.5" height="112.9" fill="#e8e8e8" stroke="#2a2a2a" stroke-width="1.3"/>
<line x1="53" y1="406.3" x2="222" y2="406.3" stroke="#3a3a3a" stroke-width="1.4"/>
<polygon points="221.2,404.7 224.6,406.3 221.2,407.90000000000003" fill="#222"/>
<text transform="translate(71.90,419.80) scale(1.0000,1.0300)" font-family='"Liberation Serif", serif' font-weight="bold" fill="#000" stroke="#000" stroke-width="0.3"><tspan x="-3.25" y="0.00" font-size="13.00">0</tspan></text>
<text transform="translate(105.20,419.80) scale(1.0000,1.0300)" font-family='"Liberation Serif", serif' font-weight="bold" fill="#000" stroke="#000" stroke-width="0.3"><tspan x="-8.12" y="0.00" font-size="13.00">0.5</tspan></text>
<text transform="translate(138.00,419.80) scale(1.0000,1.0300)" font-family='"Liberation Serif", serif' font-weight="bold" fill="#000" stroke="#000" stroke-width="0.3"><tspan x="-3.25" y="0.00" font-size="13.00">1</tspan></text>
<text transform="translate(174.10,419.80) scale(1.0000,1.0300)" font-family='"Liberation Serif", serif' font-weight="bold" fill="#000" stroke="#000" stroke-width="0.3"><tspan x="-3.25" y="0.00" font-size="13.00">5</tspan></text>
<text transform="translate(208.20,419.80) scale(1.0000,1.0300)" font-family='"Liberation Serif", serif' font-weight="bold" fill="#000" stroke="#000" stroke-width="0.3"><tspan x="-6.50" y="0.00" font-size="13.00">10</tspan></text>
<text transform="translate(62.00,436.20) scale(0.9963,1.0300)" font-family='"Liberation Serif", serif' font-weight="bold" fill="#000" stroke="#000" stroke-width="0.3"><tspan x="0.00" y="0.00" font-size="13.00">OX40L mRNA [ µg/10</tspan><tspan x="123.41" y="-4.68" font-size="8.06"> 6</tspan><tspan x="129.46" y="0.00" font-size="13.00">DC]</tspan></text>
<line x1="271.5" y1="275" x2="271.5" y2="403.3" stroke="#4a4a4a" stroke-width="1.15"/>
<polygon points="269.9,276.5 271.5,272.8 273.1,276.5" fill="#444"/>
<line x1="264.3" y1="288.5" x2="271.5" y2="288.5" stroke="#555" stroke-width="1.3"/>
<text transform="translate(262.30,293.00) scale(0.9538,1.0300)" font-family='"Liberation Serif", serif' font-weight="bold" fill="#000" stroke="#000" stroke-width="0.3"><tspan x="-19.50" y="0.00" font-size="13.00">200</tspan></text>
<line x1="264.3" y1="315.4" x2="271.5" y2="315.4" stroke="#555" stroke-width="1.3"/>
<text transform="translate(262.30,319.90) scale(0.9538,1.0300)" font-family='"Liberation Serif", serif' font-weight="bold" fill="#000" stroke="#000" stroke-width="0.3"><tspan x="-19.50" y="0.00" font-size="13.00">150</tspan></text>
<line x1="264.3" y1="345.6" x2="271.5" y2="345.6" stroke="#555" stroke-width="1.3"/>
<text transform="translate(262.30,350.10) scale(0.9538,1.0300)" font-family='"Liberation Serif", serif' font-weight="bold" fill="#000" stroke="#000" stroke-width="0.3"><tspan x="-19.50" y="0.00" font-size="13.00">100</tspan></text>
<line x1="264.3" y1="372.9" x2="271.5" y2="372.9" stroke="#555" stroke-width="1.3"/>
<text transform="translate(262.30,377.40) scale(0.9538,1.0300)" font-family='"Liberation Serif", serif' font-weight="bold" fill="#000" stroke="#000" stroke-width="0.3"><tspan x="-13.00" y="0.00" font-size="13.00">50</tspan></text>
<text transform="translate(262.30,407.30) scale(1.0000,1.0300)" font-family='"Liberation Serif", serif' font-weight="bold" fill="#000" stroke="#000" stroke-width="0.3"><tspan x="-6.50" y="0.00" font-size="13.00">0</tspan></text>
<line x1="289.4" y1="367.1" x2="289.4" y2="371.3" stroke="#222" stroke-width="1.1"/>
<line x1="286.7" y1="367.1" x2="292.09999999999997" y2="367.1" stroke="#222" stroke-width="1.3"/>
<rect x="279.2" y="371.3" width="20.4" height="32.0" fill="#fff" stroke="#2a2a2a" stroke-width="1.3"/>
<line x1="315.0" y1="313.1" x2="315.0" y2="320.4" stroke="#222" stroke-width="1.1"/>
<line x1="312.3" y1="313.1" x2="317.7" y2="313.1" stroke="#222" stroke-width="1.3"/>
<rect x="305.6" y="320.4" width="18.8" height="82.9" fill="#fff" stroke="#2a2a2a" stroke-width="1.3"/>
<line x1="356.25" y1="366.1" x2="356.25" y2="368.4" stroke="#222" stroke-width="1.1"/>
<line x1="353.55" y1="366.1" x2="358.95" y2="366.1" stroke="#222" stroke-width="1.3"/>
<rect x="345.6" y="368.4" width="21.3" height="34.9" fill="#e8e8e8" stroke="#2a2a2a" stroke-width="1.3"/>
<line x1="382.3" y1="338.5" x2="382.3" y2="342.6" stroke="#222" stroke-width="1.1"/>
<line x1="379.6" y1="338.5" x2="385.0" y2="338.5" stroke="#222" stroke-width="1.3"/>
<rect x="372.0" y="342.6" width="20.6" height="60.7" fill="#e8e8e8" stroke="#2a2a2a" stroke-width="1.3"/>
<line x1="408.7" y1="302.0" x2="408.7" y2="306.7" stroke="#222" stroke-width="1.1"/>
<line x1="406.0" y1="302.0" x2="411.4" y2="302.0" stroke="#222" stroke-width="1.3"/>
<rect x="398.2" y="306.7" width="21.0" height="96.6" fill="#e8e8e8" stroke="#2a2a2a" stroke-width="1.3"/>
<line x1="434.95" y1="285.9" x2="434.95" y2="291.6" stroke="#222" stroke-width="1.1"/>
<line x1="432.25" y1="285.9" x2="437.65" y2="285.9" stroke="#222" stroke-width="1.3"/>
<rect x="424.5" y="291.6" width="20.9" height="111.7" fill="#e8e8e8" stroke="#2a2a2a" stroke-width="1.3"/>
<line x1="460.8" y1="290.0" x2="460.8" y2="295.2" stroke="#222" stroke-width="1.1"/>
<line x1="458.1" y1="290.0" x2="463.5" y2="290.0" stroke="#222" stroke-width="1.3"/>
<rect x="450.5" y="295.2" width="20.6" height="108.1" fill="#e8e8e8" stroke="#2a2a2a" stroke-width="1.3"/>
<rect x="476.1" y="399.5" width="20.6" height="3.8" fill="#fff" stroke="#2a2a2a" stroke-width="1.3"/>
<line x1="271" y1="403.3" x2="519.5" y2="403.3" stroke="#444" stroke-width="1.3"/>
<line x1="286.7" y1="412.1" x2="291.9" y2="412.1" stroke="#111" stroke-width="2.0"/>
<line x1="312.2" y1="414.1" x2="321.0" y2="414.1" stroke="#111" stroke-width="1.5"/>
<line x1="316.6" y1="409.9" x2="316.6" y2="418.4" stroke="#111" stroke-width="1.5"/>
<text transform="translate(355.10,417.60) scale(0.9582,1.0300)" font-family='"Liberation Serif", serif' font-weight="bold" fill="#000" stroke="#000" stroke-width="0.3"><tspan x="-11.38" y="0.00" font-size="13.00">0.01</tspan></text>
<text transform="translate(383.40,417.60) scale(0.9890,1.0300)" font-family='"Liberation Serif", serif' font-weight="bold" fill="#000" stroke="#000" stroke-width="0.3"><tspan x="-11.38" y="0.00" font-size="13.00">0.05</tspan></text>
<text transform="translate(411.40,417.60) scale(0.9169,1.0300)" font-family='"Liberation Serif", serif' font-weight="bold" fill="#000" stroke="#000" stroke-width="0.3"><tspan x="-8.12" y="0.00" font-size="13.00">0.1</tspan></text>
<text transform="translate(435.70,417.60) scale(0.9108,1.0300)" font-family='"Liberation Serif", serif' font-weight="bold" fill="#000" stroke="#000" stroke-width="0.3"><tspan x="-8.12" y="0.00" font-size="13.00">0.2</tspan></text>
<text transform="translate(462.00,417.60) scale(0.9600,1.0300)" font-family='"Liberation Serif", serif' font-weight="bold" fill="#000" stroke="#000" stroke-width="0.3"><tspan x="-8.12" y="0.00" font-size="13.00">0.5</tspan></text>
<text transform="translate(497.10,417.60) scale(1.0280,1.0300)" font-family='"Liberation Serif", serif' font-weight="bold" fill="#000" stroke="#000" stroke-width="0.3"><tspan x="-21.55" y="0.00" font-size="13.00">Control</tspan></text>
<text transform="translate(260.20,434.00) scale(1.0001,1.0300)" font-family='"Liberation Serif", serif' font-weight="bold" fill="#000" stroke="#000" stroke-width="0.3"><tspan x="0.00" y="0.00" font-size="13.00">OX40L mRNA</tspan></text>
<text transform="translate(358.00,434.40) scale(0.9862,1.0300)" font-family='"Liberation Serif", serif' font-weight="bold" fill="#000" stroke="#000" stroke-width="0.3"><tspan x="0.00" y="0.00" font-size="13.00">OX40L Protein [ µg/mL]</tspan></text>
<line x1="98.6" y1="486" x2="98.6" y2="625.5" stroke="#3a3a3a" stroke-width="1.2"/>
<line x1="95.2" y1="495.3" x2="98.6" y2="495.3" stroke="#333" stroke-width="1.3"/>
<text transform="translate(91.30,499.80) scale(1.0000,1.0300)" font-family='"Liberation Serif", serif' font-weight="bold" fill="#000" stroke="#000" stroke-width="0.3"><tspan x="-19.50" y="0.00" font-size="13.00">200</tspan></text>
<line x1="95.2" y1="538.4" x2="98.6" y2="538.4" stroke="#333" stroke-width="1.3"/>
<text transform="translate(91.30,542.90) scale(1.0000,1.0300)" font-family='"Liberation Serif", serif' font-weight="bold" fill="#000" stroke="#000" stroke-width="0.3"><tspan x="-19.50" y="0.00" font-size="13.00">150</tspan></text>
<line x1="95.2" y1="582.4" x2="98.6" y2="582.4" stroke="#333" stroke-width="1.3"/>
<text transform="translate(91.30,586.90) scale(1.0000,1.0300)" font-family='"Liberation Serif", serif' font-weight="bold" fill="#000" stroke="#000" stroke-width="0.3"><tspan x="-19.50" y="0.00" font-size="13.00">100</tspan></text>
<text transform="translate(88.20,630.20) scale(1.0000,1.0300)" font-family='"Liberation Serif", serif' font-weight="bold" fill="#000" stroke="#000" stroke-width="0.3"><tspan x="-6.50" y="0.00" font-size="13.00">0</tspan></text>
<text transform="translate(66.20,555.90) rotate(-90) scale(0.9995,1.0300)" font-family='"Liberation Serif", serif' font-weight="bold" fill="#000" stroke="#000" stroke-width="0.3"><tspan x="-50.03" y="0.00" font-size="13.00">Stimulation Index</tspan></text>
<line x1="116.1" y1="610.0" x2="116.1" y2="612.3" stroke="#222" stroke-width="1.1"/>
<line x1="113.39999999999999" y1="610.0" x2="118.8" y2="610.0" stroke="#222" stroke-width="1.3"/>
<rect x="105.4" y="612.3" width="21.4" height="13.2" fill="#fff" stroke="#2a2a2a" stroke-width="1.3"/>
<line x1="142.64999999999998" y1="592.2" x2="142.64999999999998" y2="595.5" stroke="#222" stroke-width="1.1"/>
<line x1="139.95" y1="592.2" x2="145.34999999999997" y2="592.2" stroke="#222" stroke-width="1.3"/>
<rect x="132.6" y="595.5" width="20.1" height="30.0" fill="#fff" stroke="#2a2a2a" stroke-width="1.3"/>
<line x1="169.35" y1="614.2" x2="169.35" y2="615.8" stroke="#222" stroke-width="1.1"/>
<line x1="166.65" y1="614.2" x2="172.04999999999998" y2="614.2" stroke="#222" stroke-width="1.3"/>
<rect x="159.2" y="615.8" width="20.3" height="9.7" fill="#fff" stroke="#2a2a2a" stroke-width="1.3"/>
<line x1="196.8" y1="586.9" x2="196.8" y2="590.4" stroke="#222" stroke-width="1.1"/>
<line x1="194.10000000000002" y1="586.9" x2="199.5" y2="586.9" stroke="#222" stroke-width="1.3"/>
<rect x="186.6" y="590.4" width="20.4" height="35.1" fill="#fff" stroke="#2a2a2a" stroke-width="1.3"/>
<line x1="232.2" y1="581.0" x2="232.2" y2="585.3" stroke="#222" stroke-width="1.1"/>
<line x1="229.5" y1="581.0" x2="234.89999999999998" y2="581.0" stroke="#222" stroke-width="1.3"/>
<rect x="221.1" y="585.3" width="22.2" height="40.2" fill="#e8e8e8" stroke="#2a2a2a" stroke-width="1.3"/>
<line x1="259.9" y1="511.9" x2="259.9" y2="517.8" stroke="#222" stroke-width="1.1"/>
<line x1="257.2" y1="511.9" x2="262.59999999999997" y2="511.9" stroke="#222" stroke-width="1.3"/>
<rect x="248.9" y="517.8" width="22.0" height="107.7" fill="#e8e8e8" stroke="#2a2a2a" stroke-width="1.3"/>
<line x1="287.25" y1="585.6" x2="287.25" y2="589.3" stroke="#222" stroke-width="1.1"/>
<line x1="284.55" y1="585.6" x2="289.95" y2="585.6" stroke="#222" stroke-width="1.3"/>
<rect x="276.6" y="589.3" width="21.3" height="36.2" fill="#e8e8e8" stroke="#2a2a2a" stroke-width="1.3"/>
<line x1="314.8" y1="589.2" x2="314.8" y2="592.3" stroke="#222" stroke-width="1.1"/>
<line x1="312.1" y1="589.2" x2="317.5" y2="589.2" stroke="#222" stroke-width="1.3"/>
<rect x="304.0" y="592.3" width="21.6" height="33.2" fill="#e8e8e8" stroke="#2a2a2a" stroke-width="1.3"/>
<line x1="342.0" y1="532.7" x2="342.0" y2="538.3" stroke="#222" stroke-width="1.1"/>
<line x1="339.3" y1="532.7" x2="344.7" y2="532.7" stroke="#222" stroke-width="1.3"/>
<rect x="331.3" y="538.3" width="21.4" height="87.2" fill="#e8e8e8" stroke="#2a2a2a" stroke-width="1.3"/>
<line x1="97.8" y1="625.5" x2="359.5" y2="625.5" stroke="#444" stroke-width="1.3"/>
<line x1="109.8" y1="506.6" x2="207.8" y2="506.6" stroke="#111" stroke-width="1.3"/>
<polygon points="106.8,506.6 111.8,503.90000000000003 110.8,506.6 111.8,509.3" fill="#111"/>
<polygon points="210.8,506.6 205.8,503.90000000000003 206.8,506.6 205.8,509.3" fill="#111"/>
<line x1="223.6" y1="506.0" x2="353.8" y2="506.0" stroke="#111" stroke-width="1.3"/>
<polygon points="220.6,506.0 225.6,503.3 224.6,506.0 225.6,508.7" fill="#111"/>
<polygon points="356.8,506.0 351.8,503.3 352.8,506.0 351.8,508.7" fill="#111"/>
<text transform="translate(121.00,502.90) scale(1.0037,1.0300)" font-family='"Liberation Serif", serif' font-weight="bold" fill="#000" stroke="#000" stroke-width="0.3"><tspan x="0.00" y="0.00" font-size="13.00">Immature DC</tspan></text>
<text transform="translate(265.90,503.00) scale(1.0148,1.0300)" font-family='"Liberation Serif", serif' font-weight="bold" fill="#000" stroke="#000" stroke-width="0.3"><tspan x="0.00" y="0.00" font-size="13.00">Mature DC</tspan></text>
<line x1="113.7" y1="648.3" x2="117.89999999999999" y2="648.3" stroke="#111" stroke-width="1.7"/>
<line x1="137.9" y1="648.3" x2="144.70000000000002" y2="648.3" stroke="#111" stroke-width="1.7"/>
<line x1="141.3" y1="645.0999999999999" x2="141.3" y2="651.5" stroke="#111" stroke-width="1.7"/>
<line x1="163.79999999999998" y1="648.3" x2="170.6" y2="648.3" stroke="#111" stroke-width="1.7"/>
<line x1="167.2" y1="645.0999999999999" x2="167.2" y2="651.5" stroke="#111" stroke-width="1.7"/>
<line x1="190.79999999999998" y1="648.3" x2="197.6" y2="648.3" stroke="#111" stroke-width="1.7"/>
<line x1="194.2" y1="645.0999999999999" x2="194.2" y2="651.5" stroke="#111" stroke-width="1.7"/>
<line x1="231.4" y1="648.3" x2="235.6" y2="648.3" stroke="#111" stroke-width="1.7"/>
<line x1="255.4" y1="648.3" x2="262.2" y2="648.3" stroke="#111" stroke-width="1.7"/>
<line x1="258.8" y1="645.0999999999999" x2="258.8" y2="651.5" stroke="#111" stroke-width="1.7"/>
<line x1="285.2" y1="648.3" x2="289.40000000000003" y2="648.3" stroke="#111" stroke-width="1.7"/>
<line x1="310.1" y1="648.3" x2="316.9" y2="648.3" stroke="#111" stroke-width="1.7"/>
<line x1="313.5" y1="645.0999999999999" x2="313.5" y2="651.5" stroke="#111" stroke-width="1.7"/>
<line x1="338.1" y1="648.3" x2="344.9" y2="648.3" stroke="#111" stroke-width="1.7"/>
<line x1="341.5" y1="645.0999999999999" x2="341.5" y2="651.5" stroke="#111" stroke-width="1.7"/>
<line x1="113.7" y1="660.5" x2="117.89999999999999" y2="660.5" stroke="#111" stroke-width="1.7"/>
<line x1="139.20000000000002" y1="660.5" x2="143.4" y2="660.5" stroke="#111" stroke-width="1.7"/>
<line x1="163.79999999999998" y1="660.5" x2="170.6" y2="660.5" stroke="#111" stroke-width="1.7"/>
<line x1="167.2" y1="657.3" x2="167.2" y2="663.7" stroke="#111" stroke-width="1.7"/>
<line x1="231.4" y1="660.5" x2="235.6" y2="660.5" stroke="#111" stroke-width="1.7"/>
<line x1="256.7" y1="660.5" x2="260.90000000000003" y2="660.5" stroke="#111" stroke-width="1.7"/>
<line x1="283.90000000000003" y1="660.5" x2="290.7" y2="660.5" stroke="#111" stroke-width="1.7"/>
<line x1="287.3" y1="657.3" x2="287.3" y2="663.7" stroke="#111" stroke-width="1.7"/>
<line x1="310.1" y1="660.5" x2="316.9" y2="660.5" stroke="#111" stroke-width="1.7"/>
<line x1="313.5" y1="657.3" x2="313.5" y2="663.7" stroke="#111" stroke-width="1.7"/>
<line x1="113.7" y1="673.0" x2="117.89999999999999" y2="673.0" stroke="#111" stroke-width="1.7"/>
<line x1="139.20000000000002" y1="673.0" x2="143.4" y2="673.0" stroke="#111" stroke-width="1.7"/>
<line x1="165.1" y1="673.0" x2="169.29999999999998" y2="673.0" stroke="#111" stroke-width="1.7"/>
<line x1="190.79999999999998" y1="673.0" x2="197.6" y2="673.0" stroke="#111" stroke-width="1.7"/>
<line x1="194.2" y1="669.8" x2="194.2" y2="676.2" stroke="#111" stroke-width="1.7"/>
<line x1="231.4" y1="673.0" x2="235.6" y2="673.0" stroke="#111" stroke-width="1.7"/>
<line x1="256.7" y1="673.0" x2="260.90000000000003" y2="673.0" stroke="#111" stroke-width="1.7"/>
<line x1="285.2" y1="673.0" x2="289.40000000000003" y2="673.0" stroke="#111" stroke-width="1.7"/>
<line x1="311.4" y1="673.0" x2="315.6" y2="673.0" stroke="#111" stroke-width="1.7"/>
<line x1="338.1" y1="673.0" x2="344.9" y2="673.0" stroke="#111" stroke-width="1.7"/>
<line x1="341.5" y1="669.8" x2="341.5" y2="676.2" stroke="#111" stroke-width="1.7"/>
<text transform="translate(368.50,650.90) scale(1.0100,1.0000)" font-family='"Liberation Serif", serif' font-weight="bold" fill="#000" stroke="#000" stroke-width="0.3"><tspan x="0.00" y="0.00" font-size="13.00">DC/OX40L RNA</tspan></text>
<text transform="translate(373.80,664.00) scale(0.9990,1.0000)" font-family='"Liberation Serif", serif' font-weight="bold" fill="#000" stroke="#000" stroke-width="0.3"><tspan x="0.00" y="0.00" font-size="13.00">Anti OX40L </tspan><tspan x="71.51" y="0.00" font-size="13.00" font-style="italic">Ab</tspan></text>
<text transform="translate(392.80,676.30) scale(1.0128,1.0000)" font-family='"Liberation Serif", serif' font-weight="bold" fill="#000" stroke="#000" stroke-width="0.3"><tspan x="0.00" y="0.00" font-size="13.00">Control </tspan><tspan x="46.35" y="0.00" font-size="13.00" font-style="italic">Ab</tspan></text>
</svg>
</body></html>
